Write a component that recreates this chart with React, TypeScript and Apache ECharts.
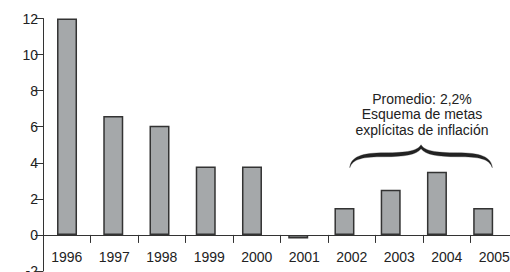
import React, { useEffect, useRef } from "react";
import * as echarts from "echarts";

const years = ["1996", "1997", "1998", "1999", "2000", "2001", "2002", "2003", "2004", "2005"];
const values = [12, 6.6, 6.05, 3.8, 3.8, -0.2, 1.5, 2.5, 3.5, 1.5];
const yMin = -2;
const yMax = 12;
const yInterval = 2;
const annotationLines = ["Promedio: 2,2%", "Esquema de metas", "explícitas de inflación"];
const braceFrom = "2002";
const braceTo = "2005";
const braceTipValue = 5;

const BRACE_W = 143;
const braceD =
  "M 0 23 C 1 12, 12 8, 35 8 C 58 8, 68 6, 71.5 0 C 75 6, 85 8, 108 8 C 131 8, 142 12, 143 23 " +
  "C 140 14, 130 12, 108 12 C 88 12, 76 10, 71.5 4 C 67 10, 55 12, 35 12 C 13 12, 3 14, 0 23 Z";

let registered = false;
function registerBrace() {
  if (registered) return;
  echarts.graphic.registerShape("brace", echarts.graphic.extendPath(braceD, {}) as any);
  registered = true;
}

const FONT = "'Liberation Sans', Arial, Helvetica, sans-serif";
const AXIS_COLOR = "#333";
const TEXT_COLOR = "#222";

export default function App() {
  const ref = useRef<HTMLDivElement>(null);
  useEffect(() => {
    if (!ref.current) return;
    registerBrace();
    const chart = echarts.init(ref.current, undefined, { renderer: "svg" });
    chart.setOption({
      animation: false,
      grid: [
        { left: 43, right: -8, top: 18.5, bottom: 1, containLabel: false, outerBoundsMode: "none" },
        { left: 43.9, right: 3.7, top: 18.5, bottom: 1, containLabel: false, outerBoundsMode: "none" },
      ],
      xAxis: [
        {
          type: "category",
          gridIndex: 0,
          data: years,
          axisLine: { onZero: false, lineStyle: { color: AXIS_COLOR, width: 1 } },
          axisTick: { show: true, length: 8, lineStyle: { color: AXIS_COLOR } },
          axisLabel: { color: TEXT_COLOR, fontSize: 14, fontFamily: FONT, margin: 15 },
          splitLine: { show: false },
          z: 5,
        },
        {
          type: "category",
          gridIndex: 1,
          data: years,
          show: false,
        },
      ],
      yAxis: [
        {
          type: "value",
          gridIndex: 0,
          min: yMin,
          max: yMax,
          interval: yInterval,
          axisLine: { show: true, onZero: false, lineStyle: { color: AXIS_COLOR, width: 1 } },
          axisTick: { show: true, length: 8, lineStyle: { color: AXIS_COLOR } },
          axisLabel: { color: TEXT_COLOR, fontSize: 14, fontFamily: FONT, margin: 5 },
          splitLine: { show: false },
        },
        {
          type: "value",
          gridIndex: 1,
          min: yMin,
          max: yMax,
          interval: yInterval,
          show: false,
          splitLine: { show: false },
        },
      ],
      series: [
        {
          type: "bar",
          xAxisIndex: 1,
          yAxisIndex: 1,
          data: values,
          barWidth: 20,
          itemStyle: { color: "#a5a8aa", borderColor: "#333", borderWidth: 1.5 },
        },
      ],
    });
    const yZero = chart.convertToPixel({ yAxisIndex: 0 }, 0) as number;
    const yBottom = chart.convertToPixel({ yAxisIndex: 0 }, yMin) as number;
    const x0 = chart.convertToPixel({ xAxisIndex: 0 }, braceFrom) as number;
    const x1 = chart.convertToPixel({ xAxisIndex: 0 }, braceTo) as number;
    const yTip = chart.convertToPixel({ yAxisIndex: 0 }, braceTipValue) as number;
    const cx = (x0 + x1) / 2;
    chart.setOption({
      xAxis: [{ offset: yZero - yBottom }, {}],
      graphic: [
        {
          type: "brace",
          x: x0 - 2,
          y: yTip,
          scaleX: (x1 - x0) / BRACE_W,
          scaleY: 1,
          shape: {},
          style: { fill: "#222", stroke: "#222", lineWidth: 0.3 },
        },
        {
          type: "text",
          x: cx - 1,
          y: yTip - 54,
          style: {
            text: annotationLines.join("\n"),
            textAlign: "center",
            textVerticalAlign: "top",
            fontSize: 14,
            fontFamily: FONT,
            lineHeight: 15.5,
            fill: TEXT_COLOR,
          },
        },
      ],
    });
    return () => chart.dispose();
  }, []);
  return <div ref={ref} style={{ width: 510, height: 272, position: "absolute", left: 0, top: 0 }} />;
}
